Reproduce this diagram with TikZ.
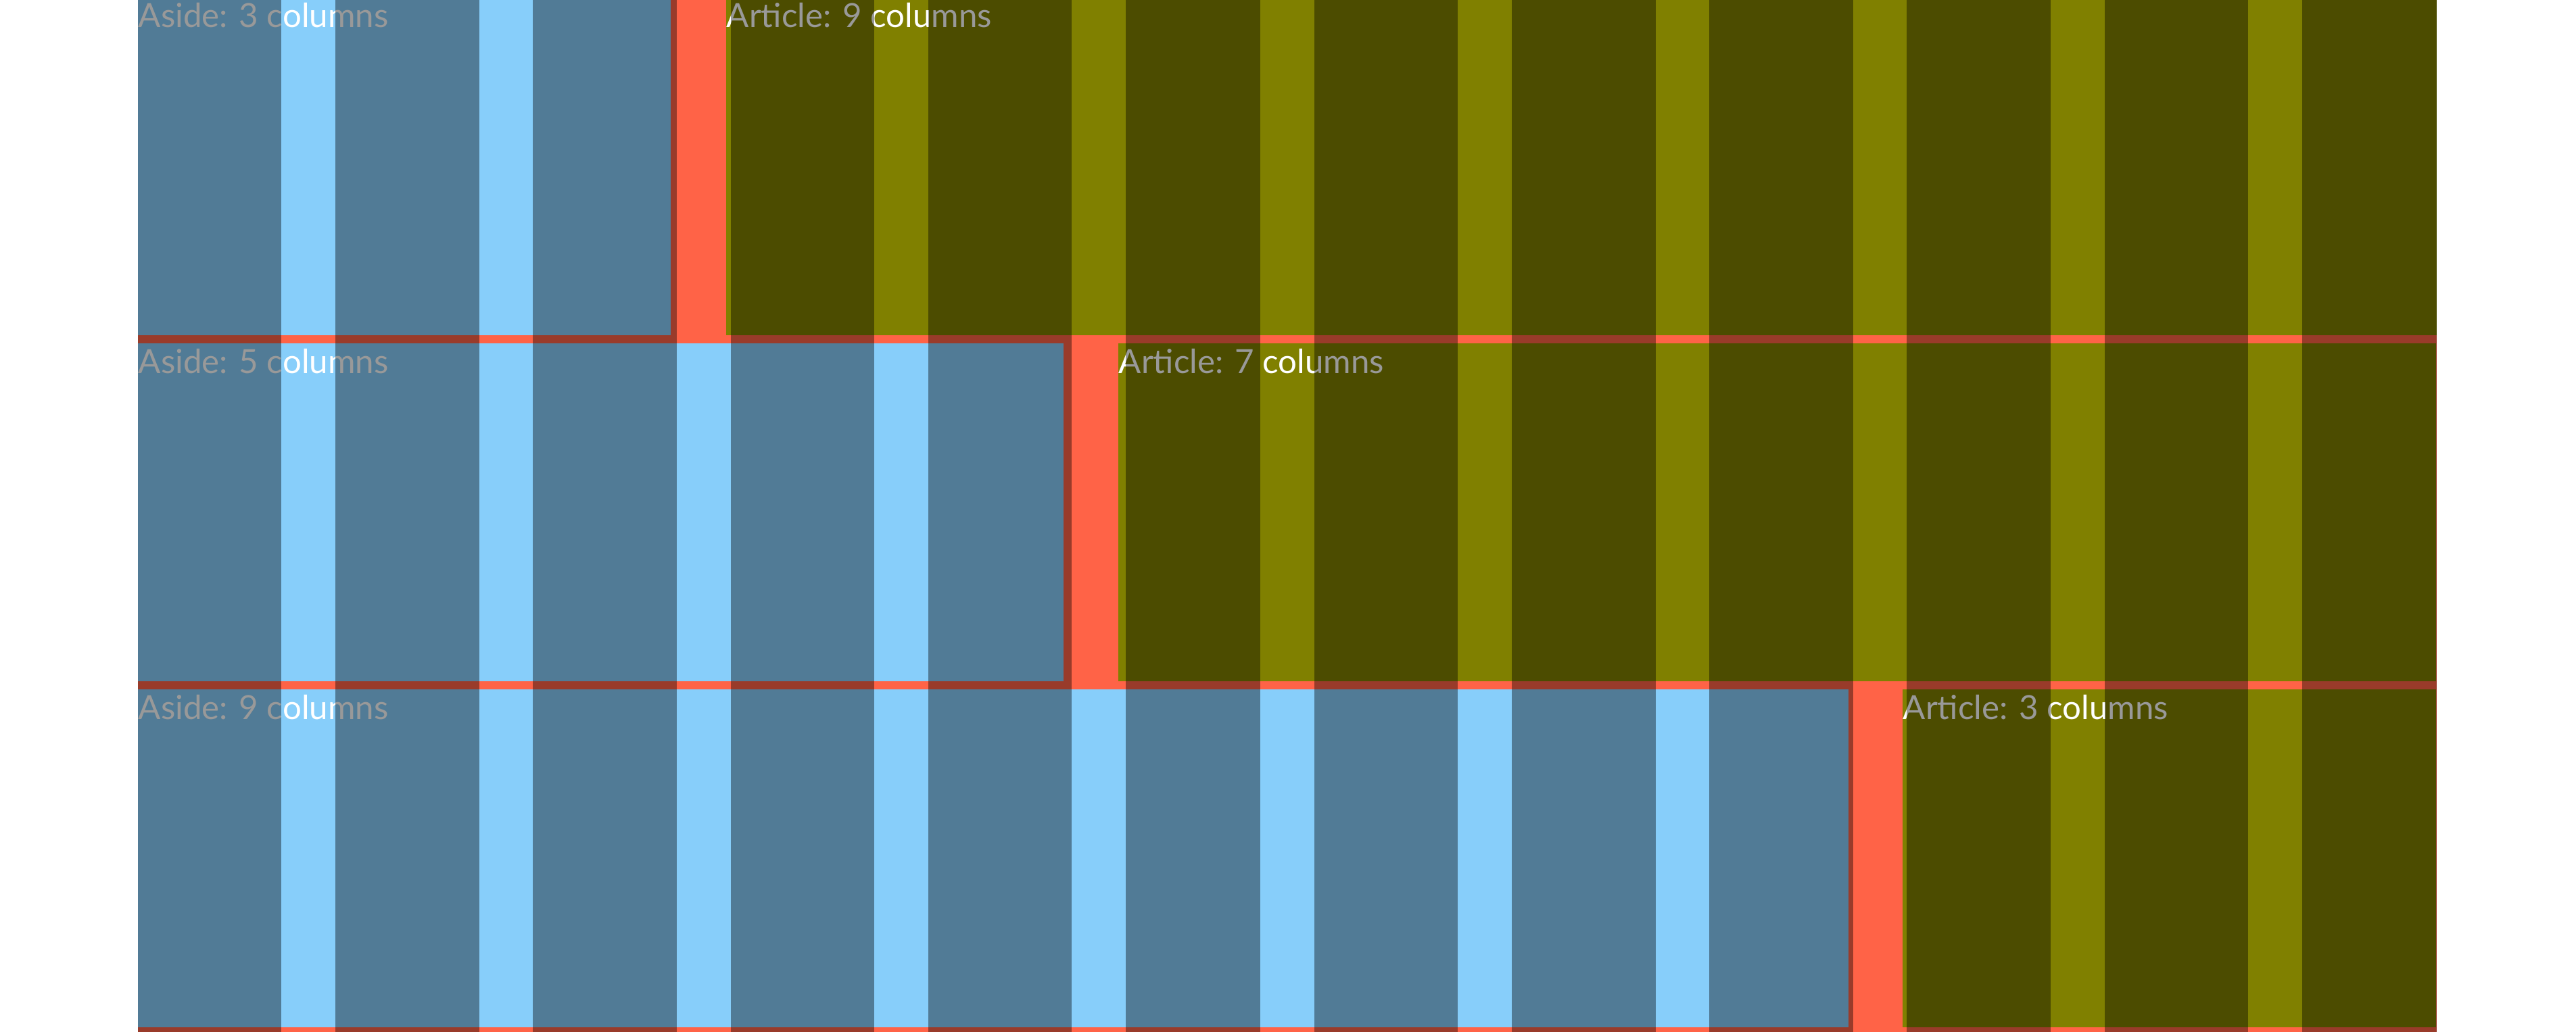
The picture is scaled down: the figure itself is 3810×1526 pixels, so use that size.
\documentclass[tikz,border=0pt]{standalone}
\usepackage{fontspec}
\setmainfont{Lato}
\usepackage{tikz}

\definecolor{gridbg}{HTML}{FF6347}
\definecolor{asidebg}{HTML}{87CEFA}
\definecolor{articlebg}{HTML}{808000}

\begin{document}
\begin{tikzpicture}[
    x=0.01cm, y=-0.01cm,
    item/.style={rectangle, inner sep=0pt, outer sep=0pt, minimum height=5cm, anchor=north west},
    aside/.style={item, fill=asidebg},
    article/.style={item, fill=articlebg},
    tag/.style={anchor=base west, inner sep=0pt, text=white, font=\fontsize{14}{16}\selectfont},
    track/.style={fill=black, fill opacity=0.4}
]
    \clip (0,0) rectangle (3810,1526);

    % Grid container
    \fill[gridbg] (204,-10) rectangle (3604,1540);

    % Items
    \node[aside, minimum width=7.88cm] (aside3) at (204,-4) {};
    \node[article, minimum width=25.28cm] (article9) at (1074,-4) {};

    \node[aside, minimum width=13.68cm] (aside5) at (204,508) {};
    \node[article, minimum width=19.48cm] (article7) at (1654,508) {};

    \node[aside, minimum width=25.28cm] (aside9) at (204,1020) {};
    \node[article, minimum width=7.88cm] (article3) at (2814,1020) {};

    % Labels
    \node[tag] (aside3label) at ([yshift=-0.44cm]aside3.north west) {Aside: 3 columns};
    \node[tag] (article9label) at ([yshift=-0.44cm]article9.north west) {Article: 9 columns};
    \node[tag] (aside5label) at ([yshift=-0.44cm]aside5.north west) {Aside: 5 columns};
    \node[tag] (article7label) at ([yshift=-0.44cm]article7.north west) {Article: 7 columns};
    \node[tag] (aside9label) at ([yshift=-0.44cm]aside9.north west) {Aside: 9 columns};
    \node[tag] (article3label) at ([yshift=-0.44cm]article3.north west) {Article: 3 columns};

    % Column tracks
    \fill[track] (204,-10) rectangle (416,1540);
    \fill[track] (496,-10) rectangle (709,1540);
    \fill[track] (788,-10) rectangle (1001,1540);
    \fill[track] (1081,-10) rectangle (1293,1540);
    \fill[track] (1373,-10) rectangle (1585,1540);
    \fill[track] (1665,-10) rectangle (1864,1540);
    \fill[track] (1944,-10) rectangle (2156,1540);
    \fill[track] (2236,-10) rectangle (2449,1540);
    \fill[track] (2528,-10) rectangle (2741,1540);
    \fill[track] (2820,-10) rectangle (3033,1540);
    \fill[track] (3113,-10) rectangle (3325,1540);
    \fill[track] (3405,-10) rectangle (3604,1540);
\end{tikzpicture}
\end{document}
